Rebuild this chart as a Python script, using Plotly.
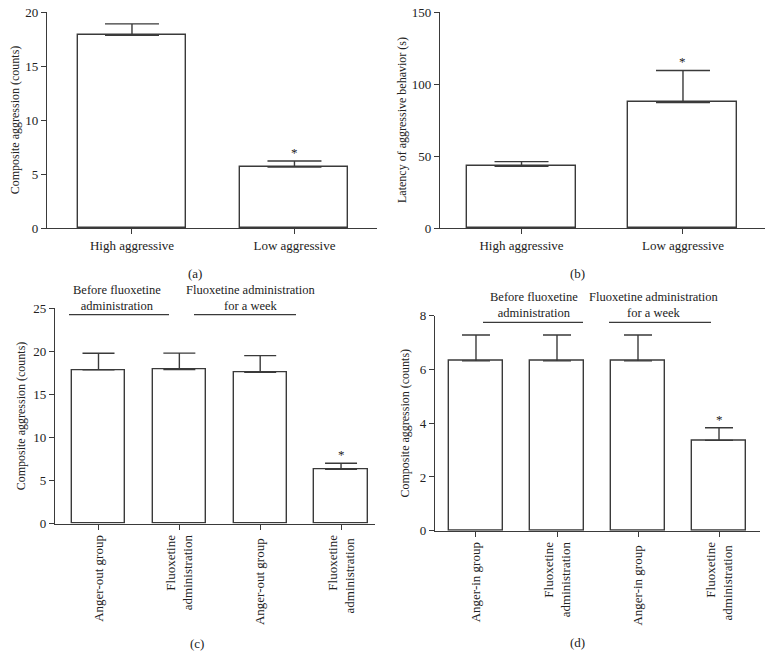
import plotly.graph_objects as go

# ---------------- data ----------------
cats_ab = ["High aggressive", "Low aggressive"]
a_vals = [17.85, 5.65]
a_err = [1.05, 0.55]
a_sig = [False, True]

b_vals = [42.9, 87.2]
b_err = [3.2, 22.2]
b_sig = [False, True]

cats_c = ["Anger-out group", "Fluoxetine<br>administration", "Anger-out group ", "Fluoxetine<br>administration "]
c_vals = [17.85, 17.9, 17.58, 6.31]
c_err = [1.93, 1.9, 1.93, 0.70]
c_sig = [False, False, False, True]

cats_d = ["Anger-in group", "Fluoxetine<br>administration", "Anger-in group ", "Fluoxetine<br>administration "]
d_vals = [6.32, 6.32, 6.32, 3.36]
d_err = [0.96, 0.96, 0.96, 0.47]
d_sig = [False, False, False, True]

ticks_a = [0, 5, 10, 15, 20]
ticks_b = [0, 50, 100, 150]
ticks_c = [0, 5, 10, 15, 20, 25]
ticks_d = [0, 2, 4, 6, 8]

group_labels = ["Before fluoxetine<br>administration", "Fluoxetine administration<br>for a week"]

# body margin is removed in the page (see write_html below)
PAD = 0
W, H = 773 - 2 * PAD, 669 - 2 * PAD
FONT = "Liberation Serif"
INK = "#3a3a3a"
TXT = "#222222"


def px(x):
    return (x - PAD) / W


def py(y):
    return 1 - (y - PAD) / H


fig = go.Figure()

panels = [
    (cats_ab, a_vals, a_err, a_sig, ticks_a, "Composite aggression (counts)", (47, 377), (12, 228), (-0.523, 1.508), 0.665, 27, 3, 0, "(a)", (195, 274)),
    (cats_ab, b_vals, b_err, b_sig, ticks_b, "Latency of aggressive behavior (s)", (440, 765), (12, 228), (-0.505, 1.508), 0.675, 27, 2, 0, "(b)", (577, 274)),
    (cats_c, c_vals, c_err, c_sig, ticks_c, "Composite aggression (counts)", (55, 375), (308.3, 523.7), (-0.538, 3.42), 0.66, 16, 5, -90, "(c)", (197, 643)),
    (cats_d, d_vals, d_err, d_sig, ticks_d, "Composite aggression (counts)", (435, 760), (315.7, 530.7), (-0.506, 3.506), 0.667, 14, 7, -90, "(d)", (577, 642)),
]

layout_axes = {}
annotations = []
for i, (cats, vals, err, sig, ticks, ytitle, xd, yd, xr, bw, capw, standoff, tang, label, lpos) in enumerate(panels):
    n = "" if i == 0 else str(i + 1)
    xs = list(range(len(cats)))
    fig.add_trace(go.Bar(
        x=xs, y=vals, width=bw,
        marker=dict(color="white", line=dict(color=INK, width=1.4)),
        error_y=dict(type="data", symmetric=False, array=err, arrayminus=[0] * len(err),
                     color=INK, thickness=1.4, width=capw),
        xaxis="x" + n, yaxis="y" + n, showlegend=False,
    ))
    layout_axes["xaxis" + n] = dict(
        domain=[px(xd[0]), min(1, px(xd[1]))], anchor="y" + n, range=list(xr), automargin=False,
        tickmode="array", tickvals=xs, ticktext=cats, tickangle=tang,
        showline=True, linecolor=INK, linewidth=1.4, ticks="outside", ticklen=5,
        tickcolor=INK, tickwidth=1.4, showgrid=False, zeroline=False,
        tickfont=dict(family=FONT, size=13, color=TXT), fixedrange=True,
        ticklabeloverflow="allow",
    )
    layout_axes["yaxis" + n] = dict(
        domain=[py(yd[1]), py(yd[0])], anchor="x" + n, range=[ticks[0], ticks[-1]], automargin=False,
        tickmode="array", tickvals=ticks,
        showline=True, linecolor=INK, linewidth=1.4, ticks="outside", ticklen=5,
        tickcolor=INK, tickwidth=1.4, showgrid=False, zeroline=False,
        tickfont=dict(family=FONT, size=13, color=TXT),
        title=dict(text=ytitle, font=dict(family=FONT, size=12, color=TXT), standoff=standoff),
        fixedrange=True, ticklabeloverflow="allow",
    )
    for j, s in enumerate(sig):
        if s:
            annotations.append(dict(
                x=xs[j], y=vals[j] + err[j], xref="x" + n, yref="y" + n,
                text="*", showarrow=False, yanchor="bottom", yshift=-1,
                font=dict(family=FONT, size=13, color=TXT),
            ))
    annotations.append(dict(
        x=px(lpos[0]), y=py(lpos[1]), xref="paper", yref="paper", text=label,
        showarrow=False, xanchor="center", yanchor="middle",
        font=dict(family=FONT, size=13, color=TXT),
    ))

# group header labels (two lines each) above panels (c) and (d)
group_pos = [(116.5, 315), (251, 315), (533.5, 322), (654, 322)]
for k, (x, ybot) in enumerate(group_pos):
    annotations.append(dict(
        x=px(x), y=py(ybot), xref="paper", yref="paper", text=group_labels[k % 2],
        showarrow=False, xanchor="center", yanchor="bottom", align="center",
        font=dict(family=FONT, size=12.5, color=TXT),
    ))

group_lines = [(69, 169, 314.7), (194, 296, 314.7), (483, 583, 322.3), (609, 711, 322.3)]
shapes = [dict(type="line", xref="paper", yref="paper", x0=px(a), x1=px(b), y0=py(y), y1=py(y),
               line=dict(color=INK, width=1.3)) for a, b, y in group_lines]

fig.update_layout(
    width=W, height=H, margin=dict(l=0, r=0, t=0, b=0, autoexpand=False),
    paper_bgcolor="white", plot_bgcolor="white",
    annotations=annotations, shapes=shapes, bargap=0,
    font=dict(family=FONT, color=TXT),
    **layout_axes,
)

fig.write_html("out.html", config={"displayModeBar": False},
               post_script="document.body.style.margin='0';")
